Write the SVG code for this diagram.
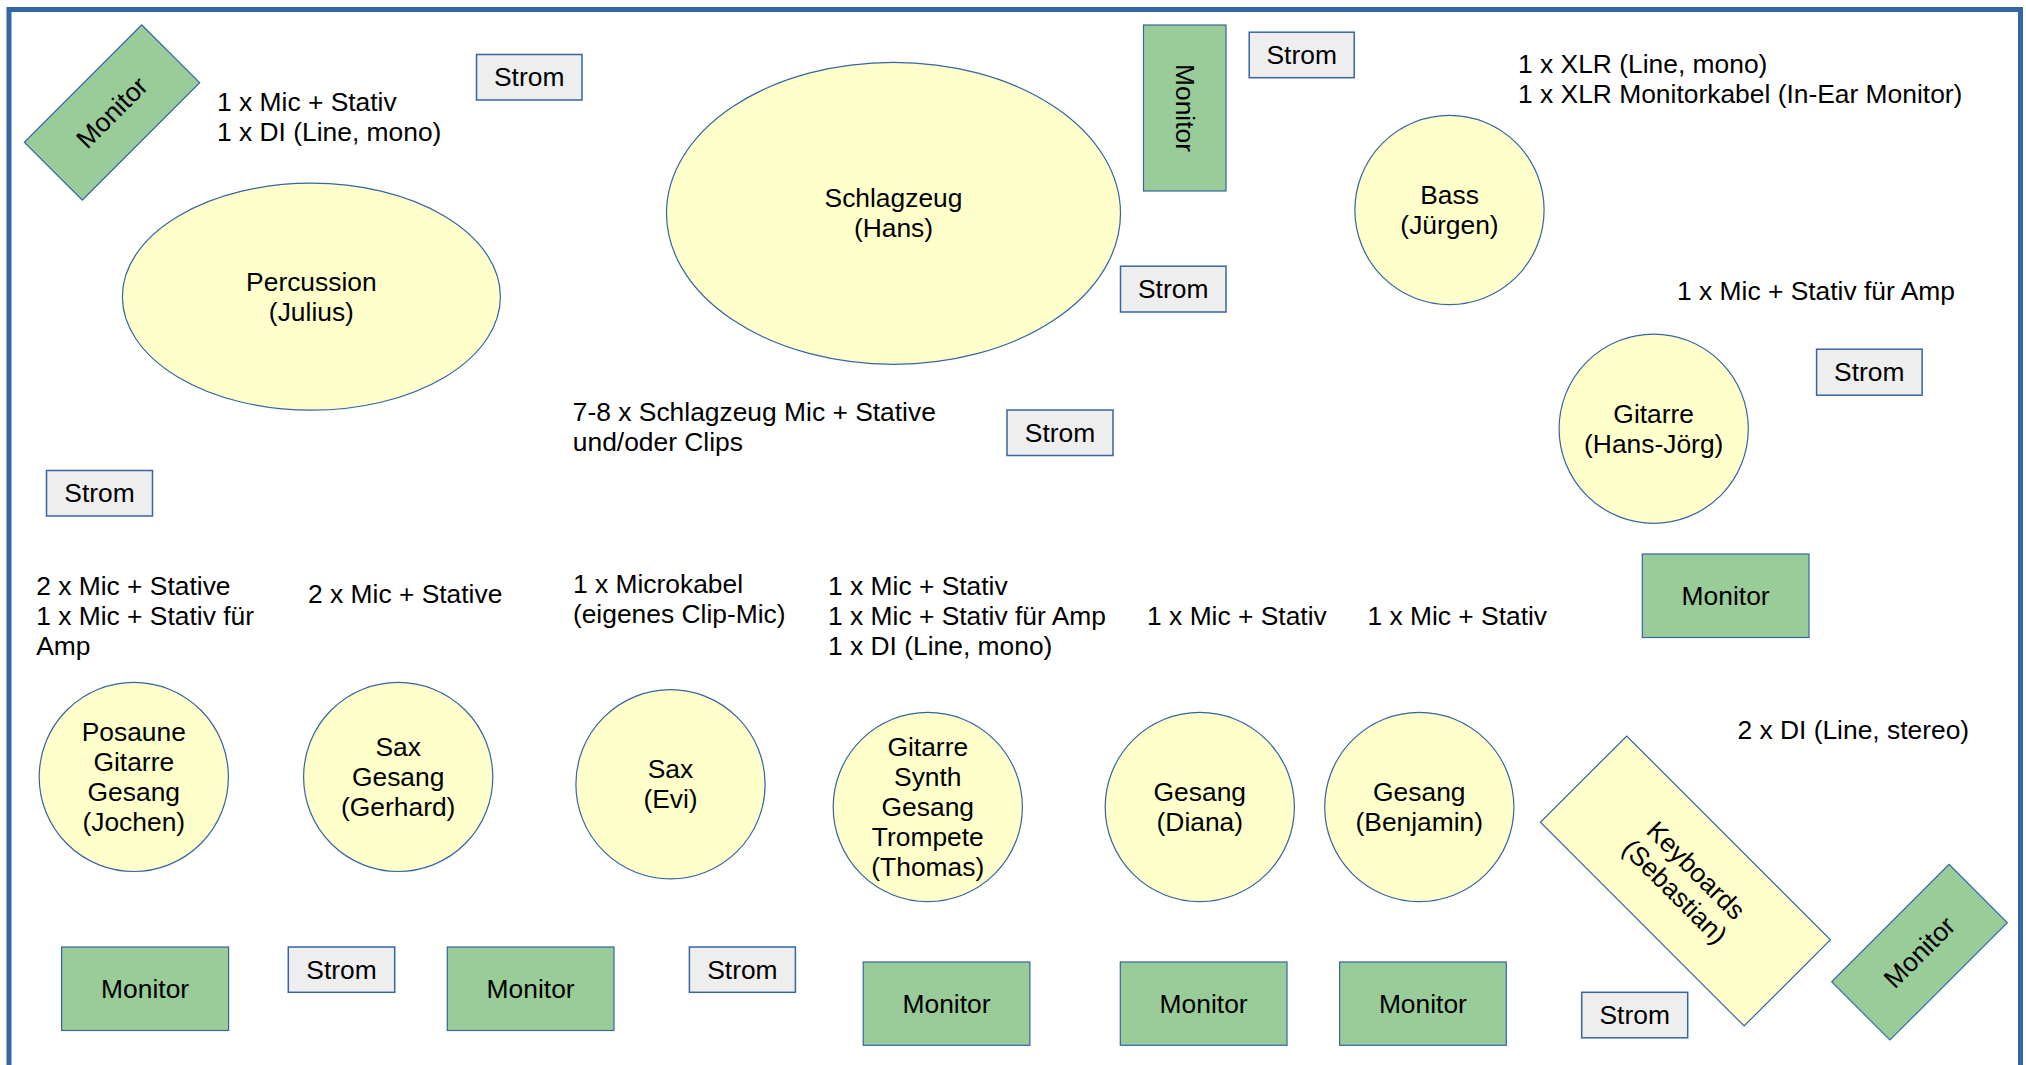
<svg xmlns="http://www.w3.org/2000/svg" width="2026" height="1065" viewBox="0 0 2026 1065">
<style>
text{font-family:"Liberation Sans",Arial,sans-serif;font-size:26.4px;fill:#000}
.c{text-anchor:middle}
.p{fill:#ffffcc;stroke:#3465a4;stroke-width:1.2}
.m{fill:#99cc99;stroke:#3465a4;stroke-width:1.2}
.s{fill:#eeeeee;stroke:#3465a4;stroke-width:1.5}
</style>
<rect x="0" y="0" width="2026" height="1065" fill="#fff"/>
<rect x="9" y="9.5" width="2011.5" height="1100" fill="#fff" stroke="#3465a4" stroke-width="5"/>

<g id="connectors"></g>

<!-- top-left monitor -->
<g id="mon1" transform="translate(112,112.5) rotate(-45)">
<rect class="m" x="-83" y="-41" width="166" height="82"/>
<text class="c" x="0" y="9">Monitor</text>
</g>
<g id="note1"><text x="217" y="110.5">1 x Mic + Stativ</text><text x="217" y="140.5">1 x DI (Line, mono)</text></g>
<g id="strom1"><rect class="s" x="476.5" y="54.5" width="105.5" height="45.5"/><text class="c" x="529.2" y="86.3">Strom</text></g>
<g id="percussion"><ellipse class="p" cx="311.4" cy="296.7" rx="189" ry="113.5"/><text class="c" x="311.4" y="290.7">Percussion</text><text class="c" x="311.4" y="320.7">(Julius)</text></g>
<g id="strom2"><rect class="s" x="46.5" y="470.5" width="106" height="45.5"/><text class="c" x="99.5" y="502.3">Strom</text></g>

<g id="drums"><ellipse class="p" cx="893.5" cy="213.3" rx="227" ry="151"/><text class="c" x="893.5" y="207.3">Schlagzeug</text><text class="c" x="893.5" y="237.3">(Hans)</text></g>
<g id="note2"><text x="572.8" y="420.8">7-8 x Schlagzeug Mic + Stative</text><text x="572.8" y="450.8">und/oder Clips</text></g>
<g id="strom3"><rect class="s" x="1007" y="410" width="106" height="45.5"/><text class="c" x="1060" y="441.8">Strom</text></g>
<g id="strom4"><rect class="s" x="1120.5" y="266.2" width="105.5" height="45.8"/><text class="c" x="1173.2" y="298.1">Strom</text></g>
<g id="mon2"><rect class="m" x="1143.5" y="25" width="82.5" height="166"/><text class="c" transform="translate(1184.7,108) rotate(90)" x="0" y="9">Monitor</text></g>
<g id="strom5"><rect class="s" x="1249.2" y="32.2" width="105" height="45.5"/><text class="c" x="1301.7" y="64">Strom</text></g>

<g id="note3"><text x="1518" y="73">1 x XLR (Line, mono)</text><text x="1518" y="103">1 x XLR Monitorkabel (In-Ear Monitor)</text></g>
<g id="bass"><circle class="p" cx="1449.5" cy="210" r="94.6"/><text class="c" x="1449.5" y="204">Bass</text><text class="c" x="1449.5" y="234">(Jürgen)</text></g>
<g id="note4"><text x="1677" y="299.6">1 x Mic + Stativ für Amp</text></g>
<g id="gitarre1"><circle class="p" cx="1653.7" cy="428.7" r="94.6"/><text class="c" x="1653.7" y="422.7">Gitarre</text><text class="c" x="1653.7" y="452.7">(Hans-Jörg)</text></g>
<g id="strom6"><rect class="s" x="1816.6" y="349.2" width="105.5" height="46"/><text class="c" x="1869.3" y="381.2">Strom</text></g>
<g id="mon3"><rect class="m" x="1642.3" y="554" width="166.7" height="83.5"/><text class="c" x="1725.6" y="604.7">Monitor</text></g>

<!-- bottom row -->
<g id="note5"><text x="36.2" y="594.6">2 x Mic + Stative</text><text x="36.2" y="624.6">1 x Mic + Stativ für</text><text x="36.2" y="654.6">Amp</text></g>
<g id="posaune"><circle class="p" cx="133.8" cy="776.9" r="94.6"/><text class="c" x="133.8" y="740.9">Posaune</text><text class="c" x="133.8" y="770.9">Gitarre</text><text class="c" x="133.8" y="800.9">Gesang</text><text class="c" x="133.8" y="830.9">(Jochen)</text></g>
<g id="mon4"><rect class="m" x="61.6" y="947" width="167" height="83.5"/><text class="c" x="145.1" y="997.7">Monitor</text></g>
<g id="strom7"><rect class="s" x="288.3" y="947" width="106.4" height="45.3"/><text class="c" x="341.5" y="978.7">Strom</text></g>

<g id="note6"><text x="308" y="602.6">2 x Mic + Stative</text></g>
<g id="sax1"><circle class="p" cx="398.2" cy="776.9" r="94.6"/><text class="c" x="398.2" y="755.9">Sax</text><text class="c" x="398.2" y="785.9">Gesang</text><text class="c" x="398.2" y="815.9">(Gerhard)</text></g>
<g id="mon5"><rect class="m" x="447.3" y="947" width="166.7" height="83.5"/><text class="c" x="530.6" y="997.7">Monitor</text></g>

<g id="note7"><text x="572.9" y="592.9">1 x Microkabel</text><text x="572.9" y="622.9">(eigenes Clip-Mic)</text></g>
<g id="sax2"><circle class="p" cx="670.5" cy="784.3" r="94.6"/><text class="c" x="670.5" y="778.3">Sax</text><text class="c" x="670.5" y="808.3">(Evi)</text></g>
<g id="strom8"><rect class="s" x="689.4" y="947" width="106" height="45.3"/><text class="c" x="742.4" y="978.7">Strom</text></g>

<g id="note8"><text x="828" y="594.6">1 x Mic + Stativ</text><text x="828" y="624.6">1 x Mic + Stativ für Amp</text><text x="828" y="654.6">1 x DI (Line, mono)</text></g>
<g id="thomas"><circle class="p" cx="927.8" cy="807" r="94.6"/><text class="c" x="927.8" y="756">Gitarre</text><text class="c" x="927.8" y="786">Synth</text><text class="c" x="927.8" y="816">Gesang</text><text class="c" x="927.8" y="846">Trompete</text><text class="c" x="927.8" y="876">(Thomas)</text></g>
<g id="mon6"><rect class="m" x="863.2" y="962" width="166.7" height="83.3"/><text class="c" x="946.5" y="1012.6">Monitor</text></g>

<g id="note9"><text x="1147.1" y="624.7">1 x Mic + Stativ</text></g>
<g id="diana"><circle class="p" cx="1199.8" cy="807" r="94.6"/><text class="c" x="1199.8" y="801">Gesang</text><text class="c" x="1199.8" y="831">(Diana)</text></g>
<g id="mon7"><rect class="m" x="1120.3" y="962" width="166.7" height="83.3"/><text class="c" x="1203.6" y="1012.6">Monitor</text></g>

<g id="note10"><text x="1367.4" y="624.7">1 x Mic + Stativ</text></g>
<g id="benjamin"><circle class="p" cx="1419.3" cy="807" r="94.6"/><text class="c" x="1419.3" y="801">Gesang</text><text class="c" x="1419.3" y="831">(Benjamin)</text></g>
<g id="mon8"><rect class="m" x="1339.6" y="962" width="166.7" height="83.3"/><text class="c" x="1422.9" y="1012.6">Monitor</text></g>

<g id="note11"><text x="1737.4" y="739.2">2 x DI (Line, stereo)</text></g>
<g id="keyboards" transform="translate(1685.4,881) rotate(45)">
<rect class="p" x="-144" y="-61" width="288" height="122"/>
<text class="c" x="0" y="-6">Keyboards</text><text class="c" x="0" y="24">(Sebastian)</text>
</g>
<g id="strom9"><rect class="s" x="1581.7" y="992.3" width="106" height="45.5"/><text class="c" x="1634.7" y="1024">Strom</text></g>
<g id="mon9" transform="translate(1919.5,952.2) rotate(-45)">
<rect class="m" x="-83" y="-41.2" width="166" height="82.4"/>
<text class="c" x="0" y="9">Monitor</text>
</g>
</svg>
